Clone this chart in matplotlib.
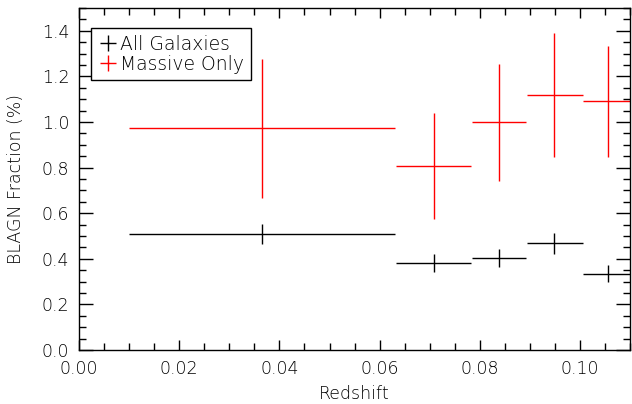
import matplotlib
matplotlib.use("Agg")
import matplotlib.pyplot as plt
from matplotlib.lines import Line2D
from matplotlib.ticker import MultipleLocator
import numpy as np

# redshift bins (center, low edge, high edge)
z_mid = [0.0365, 0.0708, 0.0839, 0.0949, 0.1055]
z_lo = [0.0100, 0.0632, 0.0784, 0.0895, 0.1005]
z_hi = [0.0631, 0.0783, 0.0893, 0.1005, 0.1140]

# all galaxies
all_frac = [0.509, 0.381, 0.404, 0.470, 0.334]
all_low = [0.463, 0.340, 0.362, 0.423, 0.296]
all_high = [0.551, 0.420, 0.445, 0.511, 0.371]

# massive only
mass_frac = [0.972, 0.808, 0.998, 1.117, 1.091]
mass_low = [0.665, 0.576, 0.740, 0.848, 0.848]
mass_high = [1.277, 1.040, 1.256, 1.390, 1.335]

plt.rcParams['font.family'] = 'DejaVu Sans'
plt.rcParams['font.weight'] = 'light'
plt.rcParams['axes.labelweight'] = 'light'

fig = plt.figure(figsize=(6.32, 4.04), dpi=100)
ax = fig.add_axes([0.125, 0.1337, 0.872, 0.8465])

z = np.array(z_mid)
xerr = [z - np.array(z_lo), np.array(z_hi) - z]

def draw(frac, low, high, color):
    f = np.array(frac)
    yerr = [f - np.array(low), np.array(high) - f]
    ax.errorbar(z, f, xerr=xerr, yerr=yerr, fmt='none', ecolor=color,
                elinewidth=1.0, capsize=0)

draw(all_frac, all_low, all_high, 'black')
draw(mass_frac, mass_low, mass_high, 'red')

ax.set_xlim(0, 0.11)
ax.set_ylim(0, 1.5)
ax.xaxis.set_major_locator(MultipleLocator(0.02))
ax.xaxis.set_minor_locator(MultipleLocator(0.005))
ax.yaxis.set_major_locator(MultipleLocator(0.2))
ax.yaxis.set_minor_locator(MultipleLocator(0.05))
ax.xaxis.set_major_formatter(plt.FormatStrFormatter('%.2f'))
ax.yaxis.set_major_formatter(plt.FormatStrFormatter('%.1f'))
ax.tick_params(which='both', direction='in', top=True, right=True,
               labelsize=12.5, width=1)
ax.tick_params(axis='x', which='major', length=7, pad=7)
ax.tick_params(axis='y', which='major', length=10, pad=7)
ax.tick_params(which='minor', length=5)
for s in ax.spines.values():
    s.set_linewidth(1)

ax.set_xlabel('Redshift', fontsize=12.5, labelpad=5)
ax.set_ylabel('BLAGN Fraction (%)', fontsize=12.5, labelpad=12)

handles = [Line2D([], [], color='black', marker='+', linestyle='none', markersize=11),
           Line2D([], [], color='red', marker='+', linestyle='none', markersize=11)]
leg = ax.legend(handles, ['All Galaxies', 'Massive Only'], loc='upper left',
                fontsize=13.5, handlelength=1.1, handletextpad=0.1,
                borderpad=0.35, labelspacing=0.05, fancybox=False,
                framealpha=1, edgecolor='black', borderaxespad=0,
                bbox_to_anchor=(0.022, 0.9415))
leg.get_frame().set_linewidth(1)

fig.savefig('out.png', dpi=100)
